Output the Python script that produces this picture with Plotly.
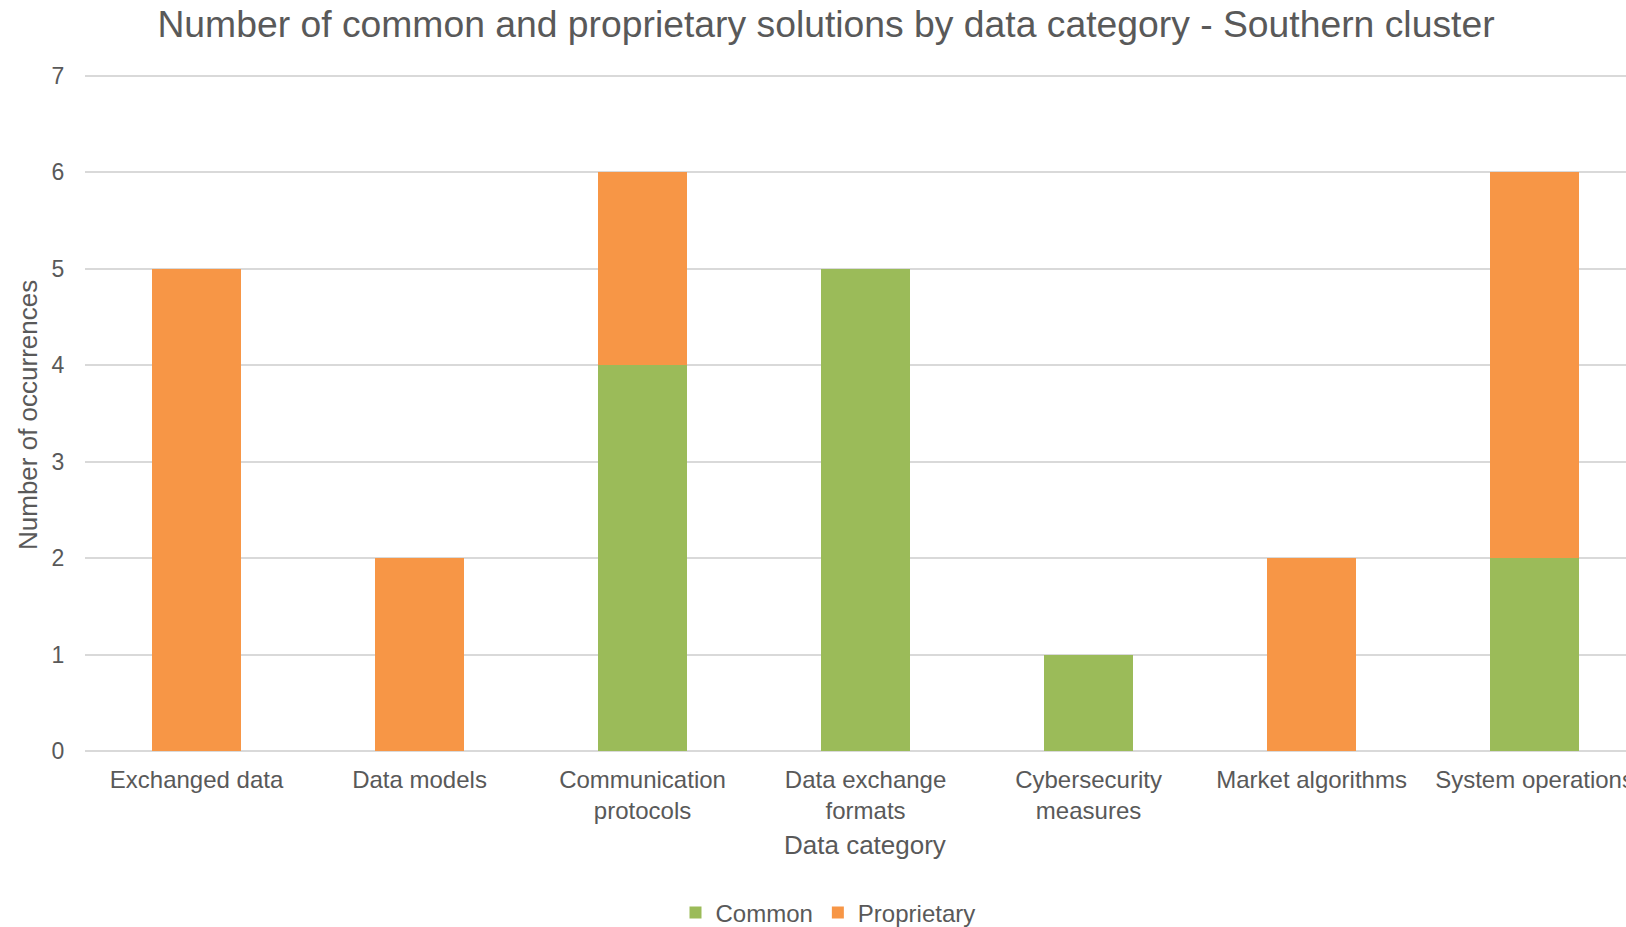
import plotly.graph_objects as go

categories = ["Exchanged data", "Data models", "Communication<br>protocols",
              "Data exchange<br>formats", "Cybersecurity<br>measures",
              "Market algorithms", "System operations"]
common = [0, 0, 4, 5, 1, 0, 2]
proprietary = [5, 2, 2, 0, 0, 2, 4]

TXT = "#595959"
FONT = "Liberation Sans, Arial, sans-serif"

fig = go.Figure()
fig.add_trace(go.Bar(x=categories, y=common, name="Common",
                     marker=dict(color="#9BBB59", line=dict(width=0)), width=0.4))
fig.add_trace(go.Bar(x=categories, y=proprietary, name="Proprietary",
                     marker=dict(color="#F79646", line=dict(width=0)), width=0.4))

fig.update_layout(
    barmode="stack",
    width=1626, height=927,
    margin=dict(l=85, r=0, t=74, b=176, autoexpand=False),
    paper_bgcolor="white", plot_bgcolor="white",
    font=dict(family=FONT, color=TXT, size=24),
    title=dict(text="Number of common and proprietary solutions by data category - Southern cluster",
               x=826/1626, xanchor="center", xref="container",
               y=(927-24)/927, yanchor="middle", yref="container",
               font=dict(size=37.3, color=TXT, family=FONT)),
    showlegend=True,
    legend=dict(orientation="h", x=828/1626, xanchor="center", xref="container",
                y=(927-913)/927, yanchor="middle", yref="container",
                font=dict(size=24, color=TXT), itemwidth=30, traceorder="normal"),
    xaxis=dict(type="category", range=[-0.5, 6.41], showgrid=False, automargin=False,
               showline=False, zeroline=False,
               ticks="outside", ticklen=7, tickcolor="white",
               tickfont=dict(size=24, color=TXT)),
    yaxis=dict(range=[0, 7.02], dtick=1, showgrid=True, gridcolor="#D9D9D9", gridwidth=1.5,
               zeroline=True, zerolinecolor="#D9D9D9", zerolinewidth=1.5, automargin=False,
               showline=False, ticks="outside", ticklen=15, tickcolor="white",
               tickfont=dict(size=23, color=TXT)),
    annotations=[
        dict(text="Number of occurrences", xref="paper", yref="paper",
             x=(28-85)/1541, y=(751-415)/677, xanchor="center", yanchor="middle",
             textangle=-90, showarrow=False, font=dict(size=26, color=TXT)),
        dict(text="Data category", xref="paper", yref="paper",
             x=(865-85)/1541, y=(751-845)/677, xanchor="center", yanchor="middle",
             showarrow=False, font=dict(size=26, color=TXT)),
    ],
)

fig.write_html("out.html")
